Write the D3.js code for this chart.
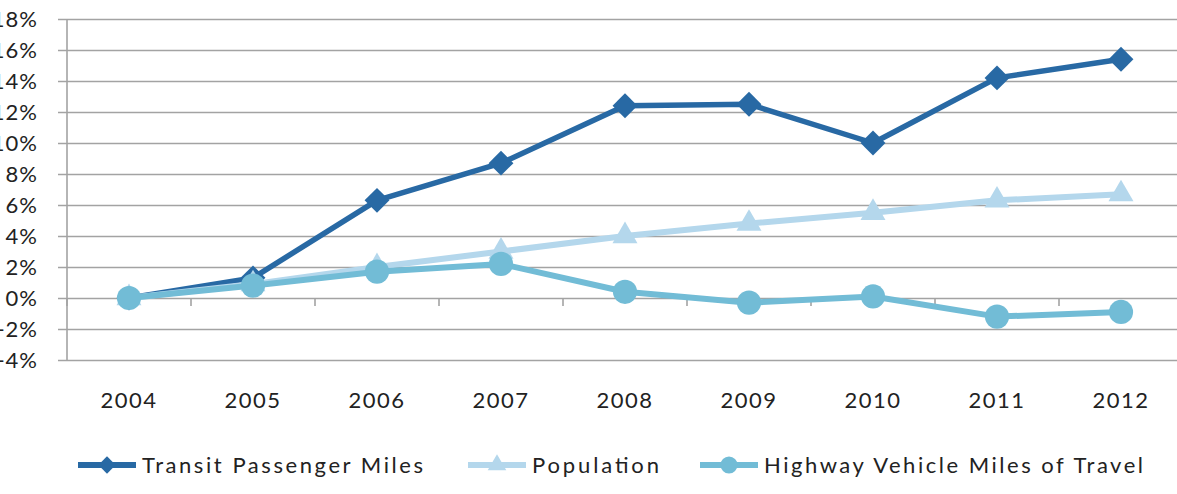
<!DOCTYPE html>
<html lang="en">
  <head>
    <meta charset="utf-8">
    <title>Transit, population and highway travel</title>
    <style>
      body { margin: 0; background: #fff; }
      svg.chart { display: block; }
      svg.chart text { font-family: Lato, "Open Sans", sans-serif; fill: #222; }
    </style>
    <script src="https://cdn.jsdelivr.net/npm/d3@7"></script>
  </head>
  <body>
    <svg class="chart" width="1177" height="494"></svg>
    <script type="text/javascript">

      // ---- data (percent change since 2004) ----
      var years = ["2004", "2005", "2006", "2007", "2008", "2009", "2010", "2011", "2012"];
      var transit = [0, 1.3, 6.3, 8.7, 12.4, 12.5, 10.0, 14.2, 15.4];
      var population = [0, 0.9, 2.0, 3.0, 4.0, 4.8, 5.5, 6.3, 6.7];
      var highway = [0, 0.8, 1.7, 2.2, 0.4, -0.3, 0.1, -1.2, -0.9];
      var yTicks = [-4, -2, 0, 2, 4, 6, 8, 10, 12, 14, 16, 18];
      var seriesNames = ["Transit Passenger Miles", "Population", "Highway Vehicle Miles of Travel"];

      var series = [
        {name: seriesNames[0], values: transit, color: "#2869a4", width: 5.5, symbol: "diamond"},
        {name: seriesNames[1], values: population, color: "#b4d7ec", width: 6, symbol: "triangle"},
        {name: seriesNames[2], values: highway, color: "#72bcd6", width: 6, symbol: "circle"}
      ];

      var svg = d3.select("svg.chart");
      var left = 67, bw = 124;

      var x = d3.scaleBand().domain(years).range([left, left + bw * years.length]).padding(0);
      var y = d3.scaleLinear().domain([-4, 18]).range([360, 19]);
      var cx = function(d) { return x(d) + x.bandwidth() / 2; };

      function symbolPath(kind, size) {
        if (kind == "diamond") return d3.symbol().type(d3.symbolSquare).size(size)();
        if (kind == "triangle") return d3.symbol().type(d3.symbolTriangle).size(size)();
        return d3.symbol().type(d3.symbolCircle).size(size)();
      }
      var markSize = {diamond: 310, triangle: 270, circle: 460};
      var legendSize = {diamond: 150, triangle: 150, circle: 230};

      // gridlines + y labels
      var yAxis = d3.axisLeft(y).tickValues(yTicks).tickSize(-(1183 - 58)).
          tickFormat(function(d) { return d + "%"; });
      var gy = svg.append("g").attr("transform", "translate(58,0)").call(yAxis);
      gy.select(".domain").remove();
      gy.selectAll(".tick line").attr("stroke", "#a3a3a3").attr("stroke-width", 1.6);
      gy.selectAll(".tick text").
          attr("x", 38 - 58).
          style("font-size", "22px").
          style("letter-spacing", "1px");

      // vertical axis line
      svg.append("line").
          attr("x1", left).attr("x2", left).
          attr("y1", y(18)).attr("y2", y(-4)).
          attr("stroke", "#a3a3a3").attr("stroke-width", 1.6);

      // category axis on the 0% line, ticks at band edges
      var edges = years.map(function(d) { return x(d); }).concat([x(years[years.length - 1]) + bw]);
      svg.append("g").selectAll("line").data(edges).enter().
          append("line").
          attr("x1", function(d) { return d; }).attr("x2", function(d) { return d; }).
          attr("y1", y(0)).attr("y2", y(0) + 8).
          attr("stroke", "#a3a3a3").attr("stroke-width", 1.6);

      svg.append("g").selectAll("text").data(years).enter().
          append("text").
          attr("x", cx).attr("y", 408).
          attr("text-anchor", "middle").
          style("font-size", "22px").
          style("letter-spacing", "1.5px").
          text(function(d) { return d; });

      // lines and markers
      var line = d3.line().
          x(function(d, i) { return cx(years[i]); }).
          y(function(d) { return y(d); });

      series.forEach(function(s) {
        var g = svg.append("g");
        g.append("path").datum(s.values).
            attr("d", line).
            attr("fill", "none").
            attr("stroke", s.color).
            attr("stroke-width", s.width).
            attr("stroke-linejoin", "round");
        g.selectAll("path.mark").data(s.values).enter().
            append("path").attr("class", "mark").
            attr("d", symbolPath(s.symbol, markSize[s.symbol])).
            attr("transform", function(d, i) {
              var t = "translate(" + cx(years[i]) + "," + y(d) + ")";
              return s.symbol == "diamond" ? t + " rotate(45)" : t;
            }).
            attr("fill", s.color);
      });

      // legend
      var legendX = [78, 468, 700];
      var legendTextW = [281, 127, 379];
      var lg = svg.append("g").selectAll("g").data(series).enter().
          append("g").
          attr("transform", function(d, i) { return "translate(" + legendX[i] + ",465)"; });
      lg.append("line").
          attr("x1", 0).attr("x2", 58).
          attr("stroke", function(d) { return d.color; }).
          attr("stroke-width", 6);
      lg.append("path").
          attr("d", function(d) { return symbolPath(d.symbol, legendSize[d.symbol]); }).
          attr("transform", function(d) { return d.symbol == "diamond" ? "translate(29,0) rotate(45)" : "translate(29,0)"; }).
          attr("fill", function(d) { return d.color; });
      lg.append("text").
          attr("x", 64).attr("y", 8).
          attr("textLength", function(d, i) { return legendTextW[i]; }).
          attr("lengthAdjust", "spacing").
          style("font-size", "22px").
          text(function(d) { return d.name; });
    </script>
  </body>
</html>
